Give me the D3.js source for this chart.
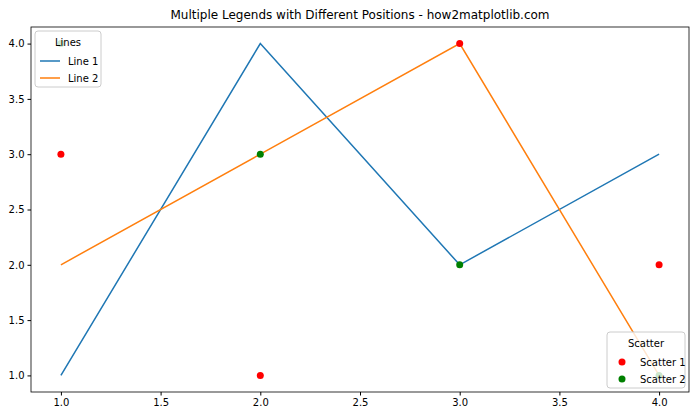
<!DOCTYPE html>
<html>
<head>
<meta charset="UTF-8">
<script src="https://d3js.org/d3.v7.min.js"></script>
<style>body{margin:0;background:#fff}</style>
</head>
<body>
<script>
var xs = [1, 2, 3, 4];
var line1 = [1, 4, 2, 3];
var line2 = [2, 3, 4, 1];
var scatter1 = [3, 1, 4, 2];
var scatter2 = [4, 3, 2, 1];
var xTicks = [1.0, 1.5, 2.0, 2.5, 3.0, 3.5, 4.0];
var yTicks = [1.0, 1.5, 2.0, 2.5, 3.0, 3.5, 4.0];

var W = 700, H = 420;
var m = {l: 31, r: 11, t: 27, b: 28};
var font = "DejaVu Sans, sans-serif";

var svg = d3.select("body").append("svg").attr("width", W).attr("height", H)
    .style("font-family", font);

var x = d3.scaleLinear().domain([0.85, 4.15]).range([m.l, W - m.r]);
var y = d3.scaleLinear().domain([0.85, 4.15]).range([H - m.b, m.t]);

svg.append("text").attr("x", (m.l + W - m.r) / 2).attr("y", 19)
    .attr("text-anchor", "middle").style("font-size", "12px")
    .text("Multiple Legends with Different Positions - how2matplotlib.com");

var xAxis = svg.append("g").attr("transform", "translate(0," + (H - m.b) + ")")
    .call(d3.axisBottom(x).tickValues(xTicks).tickFormat(d3.format(".1f")).tickSizeOuter(0).tickSize(3.5));
var yAxis = svg.append("g").attr("transform", "translate(" + m.l + ",0)")
    .call(d3.axisLeft(y).tickValues(yTicks).tickFormat(d3.format(".1f")).tickSizeOuter(0).tickSize(3.5));
[xAxis, yAxis].forEach(function(a){
  a.select(".domain").remove();
  a.selectAll("text").style("font-size", "10px").style("font-family", font).attr("fill", "#000");
});

var line = d3.line().x(function(d, i){ return x(xs[i]); }).y(function(d){ return y(d); });
svg.append("path").datum(line1).attr("d", line).attr("fill", "none").attr("stroke", "#1f77b4").attr("stroke-width", 1.5);
svg.append("path").datum(line2).attr("d", line).attr("fill", "none").attr("stroke", "#ff7f0e").attr("stroke-width", 1.5);

svg.selectAll(".s1").data(scatter1).enter().append("circle")
    .attr("cx", function(d, i){ return x(xs[i]); }).attr("cy", function(d){ return y(d); })
    .attr("r", 3.5).attr("fill", "red");
svg.selectAll(".s2").data(scatter2).enter().append("circle")
    .attr("cx", function(d, i){ return x(xs[i]); }).attr("cy", function(d){ return y(d); })
    .attr("r", 3.5).attr("fill", "green");

svg.append("rect").attr("x", m.l).attr("y", m.t).attr("width", W - m.l - m.r).attr("height", H - m.t - m.b)
    .attr("fill", "none").attr("stroke", "#000").attr("stroke-width", 0.8);

function legend(x0, y0, w, title, items) {
  var g = svg.append("g").attr("transform", "translate(" + x0 + "," + y0 + ")");
  g.append("rect").attr("width", w).attr("height", 22 + items.length * 17).attr("rx", 3)
      .attr("fill", "rgba(255,255,255,0.8)").attr("stroke", "#ccc");
  g.append("text").attr("x", w / 2).attr("y", 15).attr("text-anchor", "middle")
      .style("font-size", "10px").text(title);
  items.forEach(function(it, i){
    var yy = 30 + i * 17;
    if (it.type === "line") {
      g.append("line").attr("x1", 5).attr("x2", 25).attr("y1", yy).attr("y2", yy)
          .attr("stroke", it.color).attr("stroke-width", 1.5);
    } else {
      g.append("circle").attr("cx", 15).attr("cy", yy).attr("r", 3.5).attr("fill", it.color);
    }
    g.append("text").attr("x", 33).attr("y", yy + 3.5).style("font-size", "10px").text(it.label);
  });
}
legend(m.l + 4, m.t + 4, 66, "Lines", [
  {type: "line", color: "#1f77b4", label: "Line 1"},
  {type: "line", color: "#ff7f0e", label: "Line 2"}
]);
legend(W - m.r - 4 - 78, H - m.b - 4 - 56, 78, "Scatter", [
  {type: "dot", color: "red", label: "Scatter 1"},
  {type: "dot", color: "green", label: "Scatter 2"}
]);
</script>
</body>
</html>
